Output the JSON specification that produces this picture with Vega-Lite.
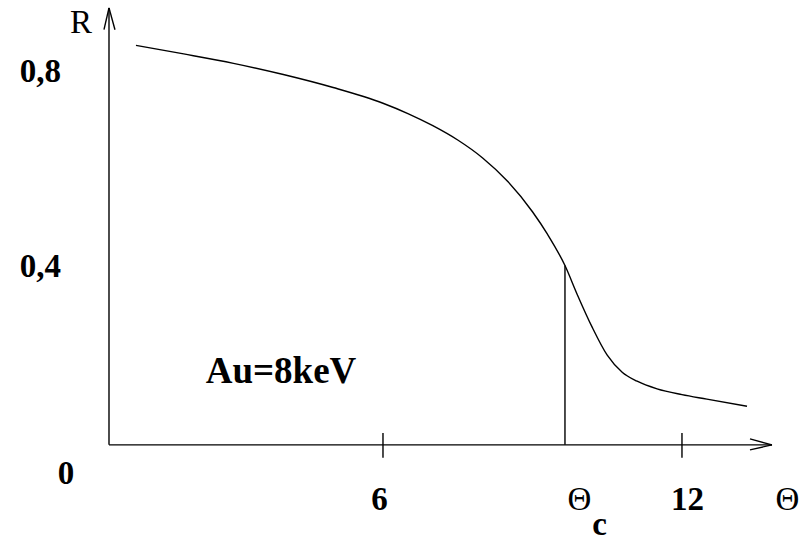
{
  "$schema": "https://vega.github.io/schema/vega-lite/v6.json",
  "width": 807,
  "height": 542,
  "autosize": {"type": "fit", "contains": "padding"},
  "padding": 0,
  "background": "white",
  "config": {"view": {"stroke": null}},
  "datasets": {
    "reflectivity": [
      {"theta": 1.043, "R": 0.891},
      {"theta": 2.0, "R": 0.872},
      {"theta": 3.0, "R": 0.851},
      {"theta": 4.0, "R": 0.826},
      {"theta": 5.0, "R": 0.797},
      {"theta": 6.0, "R": 0.762},
      {"theta": 6.5, "R": 0.739},
      {"theta": 7.0, "R": 0.712},
      {"theta": 7.5, "R": 0.680},
      {"theta": 8.0, "R": 0.640},
      {"theta": 8.5, "R": 0.588},
      {"theta": 9.0, "R": 0.520},
      {"theta": 9.3, "R": 0.470},
      {"theta": 9.652, "R": 0.400},
      {"theta": 9.9, "R": 0.335},
      {"theta": 10.2, "R": 0.262},
      {"theta": 10.5, "R": 0.200},
      {"theta": 10.8, "R": 0.162},
      {"theta": 11.1, "R": 0.142},
      {"theta": 11.5, "R": 0.125},
      {"theta": 12.0, "R": 0.112},
      {"theta": 12.5, "R": 0.102},
      {"theta": 13.305, "R": 0.086}
    ],
    "segments": [
      {"part": "R axis", "x": 0.5017, "y": 0, "x2": 0.5017, "y2": 0.9746},
      {"part": "R arrow left", "x": 0.4013, "y": 0.926, "x2": 0.5017, "y2": 0.9746},
      {"part": "R arrow right", "x": 0.622, "y": 0.926, "x2": 0.5017, "y2": 0.9746},
      {"part": "theta axis", "x": 0.5017, "y": 0, "x2": 13.806, "y2": 0},
      {"part": "theta arrow top", "x": 13.365, "y": 0.0133, "x2": 13.806, "y2": 0},
      {"part": "theta arrow bottom", "x": 13.365, "y": -0.0111, "x2": 13.806, "y2": 0},
      {"part": "tick 6", "x": 6, "y": 0.0265, "x2": 6, "y2": -0.0287},
      {"part": "tick 12", "x": 12, "y": 0.0265, "x2": 12, "y2": -0.0287},
      {"part": "critical angle", "x": 9.652, "y": 0, "x2": 9.652, "y2": 0.4}
    ],
    "boldLabels": [
      {"x": -0.873, "y": 0.8088, "label": "0,8"},
      {"x": -0.873, "y": 0.3735, "label": "0,4"},
      {"x": -0.361, "y": -0.0862, "label": "0"},
      {"x": 5.93, "y": -0.1459, "label": "6"},
      {"x": 12.11, "y": -0.1459, "label": "12"},
      {"x": 10.345, "y": -0.2010, "label": "c"}
    ],
    "plainLabels": [
      {"x": -0.06, "y": 0.9187, "label": "R"},
      {"x": 9.943, "y": -0.1459, "label": "Θ"},
      {"x": 14.117, "y": -0.1459, "label": "Θ"}
    ],
    "notes": [
      {"x": 3.953, "y": 0.137, "label": "Au=8keV"}
    ]
  },
  "resolve": {"scale": {"x": "shared", "y": "shared"}},
  "layer": [
    {
      "data": {"name": "segments"},
      "mark": {"type": "rule", "color": "black", "strokeWidth": 1.4},
      "encoding": {
        "x": {"field": "x", "type": "quantitative", "scale": {"domain": [-1.6856, 14.509], "nice": false, "zero": false}, "axis": null},
        "y": {"field": "y", "type": "quantitative", "scale": {"domain": [-0.20552, 0.99227], "nice": false, "zero": false}, "axis": null},
        "x2": {"field": "x2"},
        "y2": {"field": "y2"}
      }
    },
    {
      "data": {"name": "reflectivity"},
      "mark": {"type": "line", "color": "black", "strokeWidth": 1.4, "interpolate": "monotone"},
      "encoding": {
        "x": {"field": "theta", "type": "quantitative"},
        "y": {"field": "R", "type": "quantitative"}
      }
    },
    {
      "data": {"name": "boldLabels"},
      "mark": {"type": "text", "font": "Liberation Serif", "fontWeight": "bold", "fontSize": 33, "align": "center", "baseline": "alphabetic", "color": "black"},
      "encoding": {
        "x": {"field": "x", "type": "quantitative"},
        "y": {"field": "y", "type": "quantitative"},
        "text": {"field": "label"}
      }
    },
    {
      "data": {"name": "plainLabels"},
      "mark": {"type": "text", "font": "Liberation Serif", "fontSize": 33, "align": "center", "baseline": "alphabetic", "color": "black"},
      "encoding": {
        "x": {"field": "x", "type": "quantitative"},
        "y": {"field": "y", "type": "quantitative"},
        "text": {"field": "label"}
      }
    },
    {
      "data": {"name": "notes"},
      "mark": {"type": "text", "font": "Liberation Serif", "fontWeight": "bold", "fontSize": 37, "align": "center", "baseline": "alphabetic", "color": "black"},
      "encoding": {
        "x": {"field": "x", "type": "quantitative"},
        "y": {"field": "y", "type": "quantitative"},
        "text": {"field": "label"}
      }
    }
  ]
}
